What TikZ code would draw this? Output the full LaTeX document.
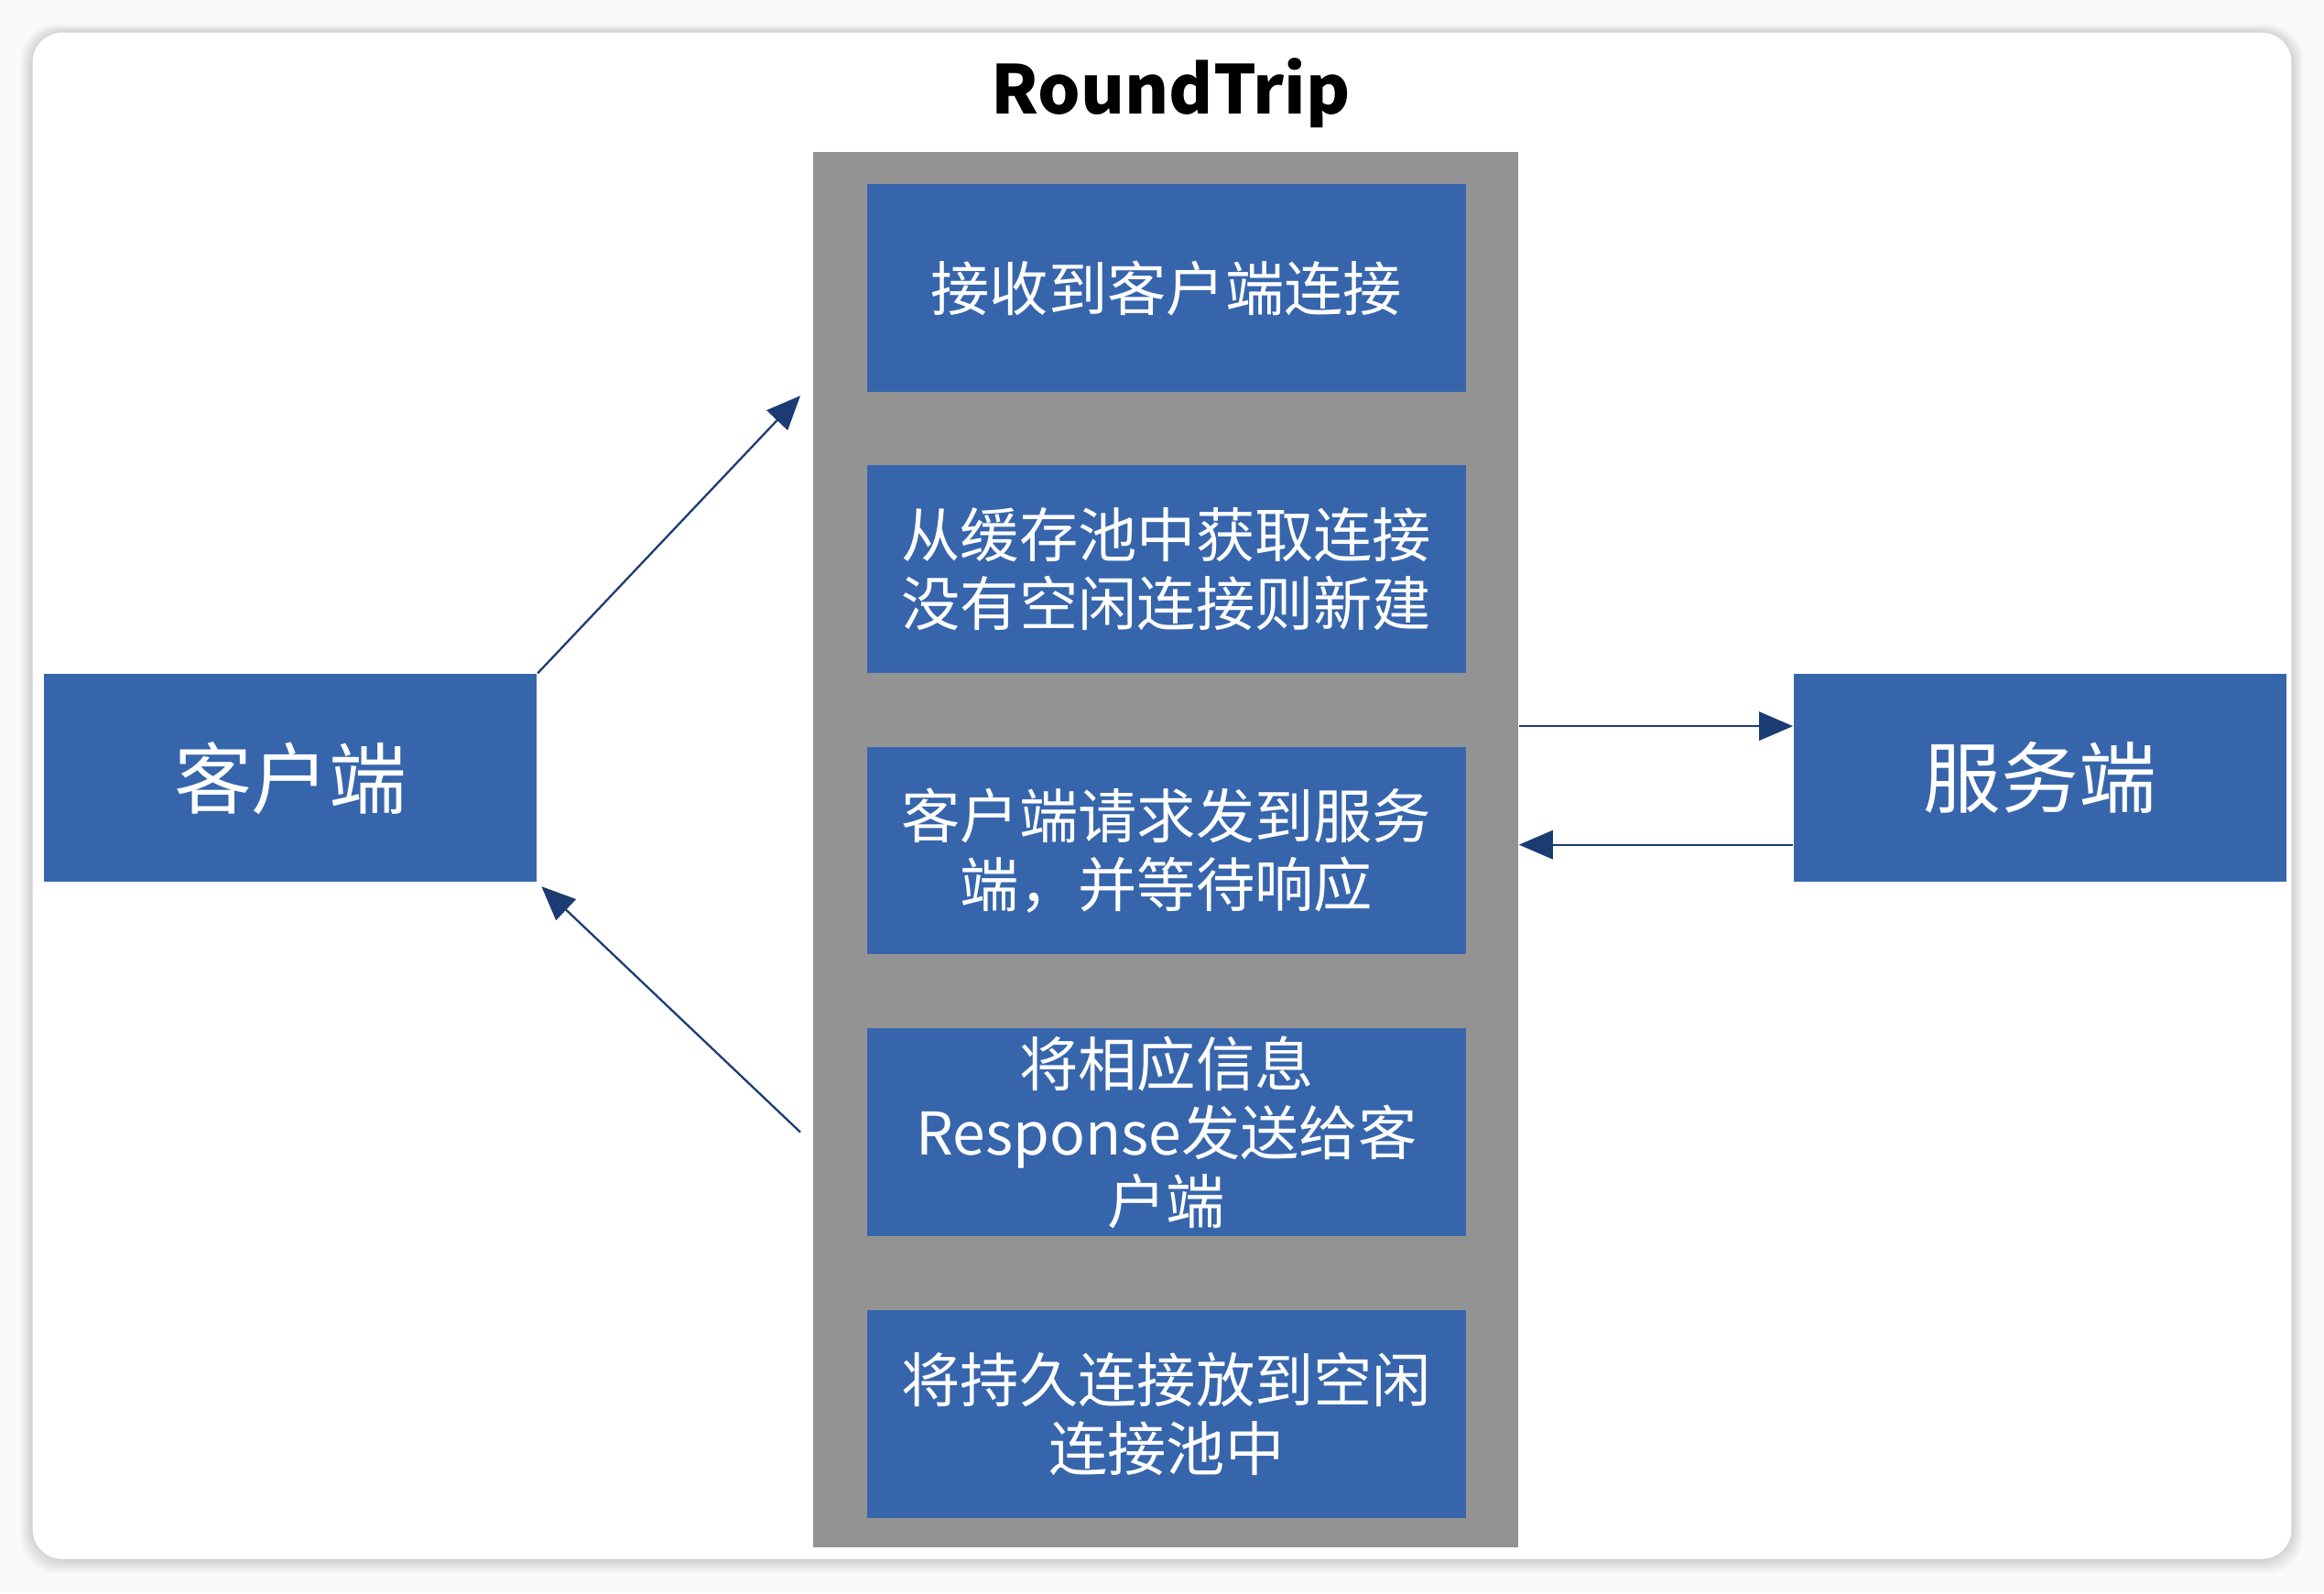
\documentclass[tikz,border=0pt]{standalone}
\usepackage{fontspec}
\setmainfont{Noto Sans CJK SC}
\usetikzlibrary{arrows.meta}
\tikzset{>={Triangle[length=6.5pt,width=5.5pt]}, line width=0.9pt}
\definecolor{boxblue}{RGB}{54,101,172}
\definecolor{poolgray}{RGB}{147,147,147}
\definecolor{arrowblue}{RGB}{27,60,115}

\begin{document}
\begin{tikzpicture}[x=0.01cm,y=-0.01cm,
  stagebox/.style={fill=boxblue,text=white,inner sep=0pt,minimum width=4.04cm,minimum height=1.4cm,
    align=center,font=\fontsize{11.3}{13.2}\selectfont},
  sidebox/.style={fill=boxblue,text=white,inner sep=0pt,minimum width=3.32cm,minimum height=1.4cm,
    font=\fontsize{14.9}{18}\selectfont},
  flow/.style={->,draw=arrowblue,fill=arrowblue}]
  \def\colx{787}
  \def\rowy{525}

  % page
  \useasboundingbox (0,0) rectangle (1568,1075);
  \fill[gray!4] (0,0) rectangle (1568,1075);
  \foreach \s in {1,...,8}
    \fill[black,opacity=0.02,rounded corners=0.24cm] (22-\s,22-0.7*\s) rectangle (1546+\s,1052+1.2*\s);
  \fill[white,rounded corners=0.2cm] (22,22) rectangle (1546,1052);

  % RoundTrip column
  \node[font=\bfseries\fontsize{12.9}{16}\selectfont] (title) at (790,63) {RoundTrip};
  \node[fill=poolgray,inner sep=0pt,minimum width=4.75cm,minimum height=9.41cm] (pool) at (786.5,573.5) {};
  \node[stagebox] (accept) at (\colx,194.5) {接收到客户端连接};
  \node[stagebox] (fetch) at (\colx,384) {从缓存池中获取连接\\没有空闲连接则新建};
  \node[stagebox] (send) at (\colx,574) {客户端请求发到服务\\端，并等待响应};
  \node[stagebox] (reply) at (\colx,764) {将相应信息\\Response发送给客\\户端};
  \node[stagebox] (putback) at (\colx,954) {将持久连接放到空闲\\连接池中};

  % ends
  \node[sidebox] (client) at (196,\rowy) {客户端};
  \node[sidebox] (server) at (1376.5,\rowy) {服务端};

  % arrows
  \coordinate (in) at (540,267);
  \coordinate (out) at (540,764);
  \coordinate (req) at ([yshift=0.35cm]server.west);
  \coordinate (resp) at ([yshift=-0.45cm]server.west);
  \draw[flow] (client.north east) -- (in);
  \draw[flow,shorten >=1pt] (out) -- (client.south east);
  \draw[flow] (pool.east |- req) -- (req);
  \draw[flow] (resp) -- (pool.east |- resp);
\end{tikzpicture}
\end{document}
